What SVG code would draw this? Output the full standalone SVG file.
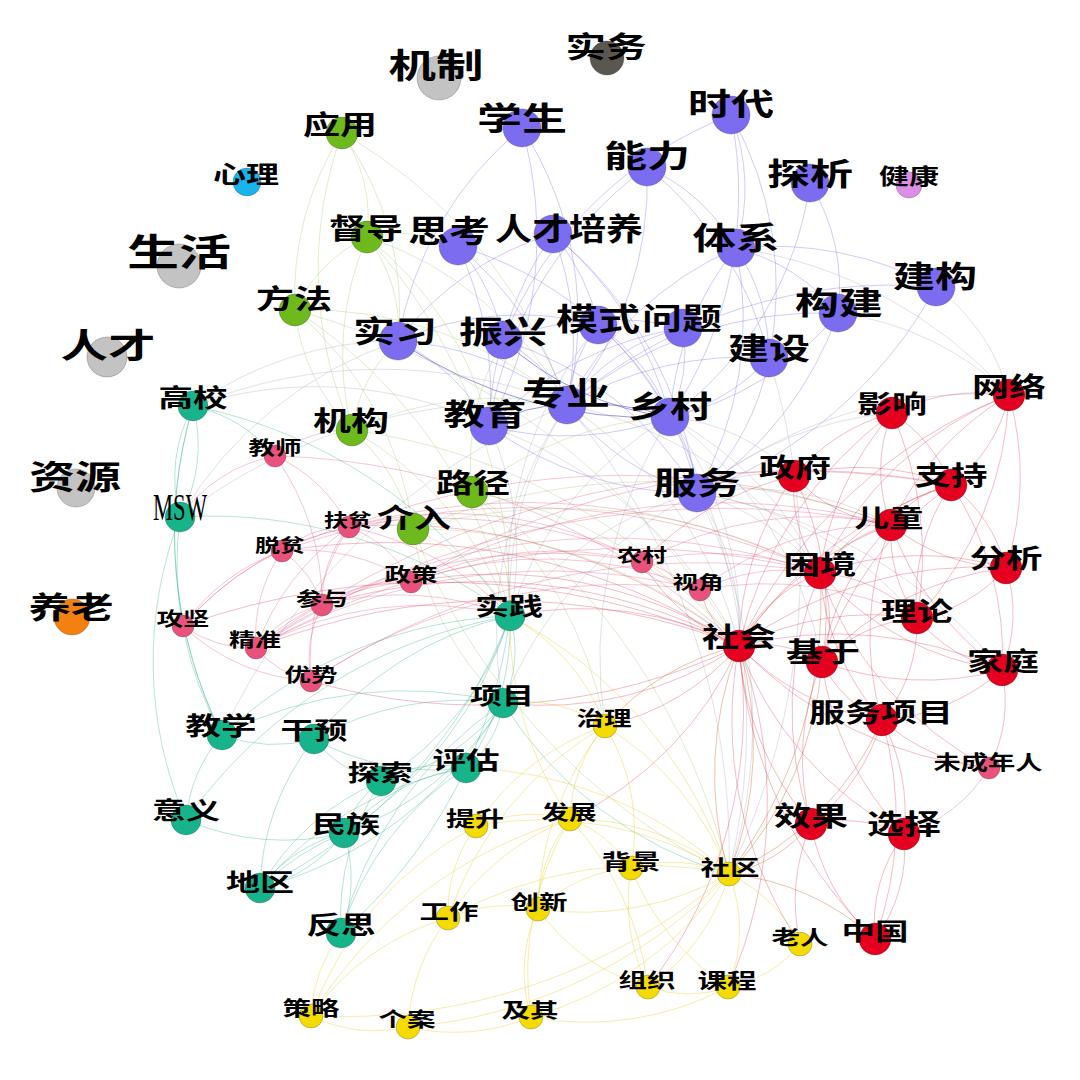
<svg xmlns="http://www.w3.org/2000/svg" width="1080" height="1080" viewBox="0 0 1080 1080">
<style>
.e path{fill:none;stroke-width:.8}
.ep{stroke:#7466e6;stroke-opacity:.42}
.ept{stroke:#5a4fd0;stroke-opacity:.75;stroke-width:1.6}
.ex{stroke:#9a9ab4;stroke-opacity:.38}
.eg{stroke:#a8c878;stroke-opacity:.45}
.er{stroke:#d8203e;stroke-opacity:.38}
.ek{stroke:#e0567e;stroke-opacity:.42}
.et{stroke:#2aae88;stroke-opacity:.42}
.ey{stroke:#e8d030;stroke-opacity:.5}
.eo{stroke:#c86a30;stroke-opacity:.5}
.n circle{stroke:#333;stroke-width:.6;stroke-opacity:.45}
.n text{font-family:"Noto Sans CJK SC","Noto Sans CJK JP",sans-serif;font-weight:700;text-anchor:middle;fill:#000}
.cp{fill:#7b6cf0}.cr{fill:#e6001f}.ck{fill:#e8527c}.ct{fill:#17b48c}.cg{fill:#6eba1c}.cy{fill:#f5dc00}.cgr{fill:#c3c3c3}
</style>
<rect width="1080" height="1080" fill="#fff"/>
<g id="connectors" class="e">
<g class="ep">
<path d="M522 128A350 350 0 0 1 567 405"/><path d="M522 128A350 350 0 0 0 398 341"/><path d="M522 128A400 400 0 0 1 489 426"/>
<path d="M731 115A400 400 0 0 1 670 417"/><path d="M731 115A400 400 0 0 0 503 340"/><path d="M731 115A350 350 0 0 1 769 358"/><path d="M731 115A200 200 0 0 1 736 248"/>
<path d="M647 167A350 350 0 0 1 567 405"/><path d="M647 167A200 200 0 0 1 736 248"/><path d="M647 167A400 400 0 0 0 489 426"/><path d="M647 167A350 350 0 0 1 769 358"/>
<path d="M810 183A200 200 0 0 1 838 313"/><path d="M810 183A350 350 0 0 1 670 417"/>
<path d="M458 246A350 350 0 0 1 567 405"/><path d="M458 246A350 350 0 0 1 670 417"/><path d="M458 246A200 200 0 0 1 503 340"/><path d="M458 246A350 350 0 0 1 489 426"/>
<path d="M553 234A300 300 0 0 1 567 405"/><path d="M553 234A350 350 0 0 1 670 417"/><path d="M553 234A350 350 0 0 0 489 426"/><path d="M553 234A200 200 0 0 1 598 325"/><path d="M553 234A300 300 0 0 0 398 341"/><path d="M553 234A400 400 0 0 1 697 493"/>
<path d="M736 248A200 200 0 0 1 769 358"/><path d="M736 248A200 200 0 0 1 838 313"/><path d="M736 248A350 350 0 0 1 936 287"/><path d="M736 248A350 350 0 0 0 567 405"/><path d="M736 248A350 350 0 0 1 697 493"/><path d="M736 248A300 300 0 0 0 670 417"/>
<path d="M936 287A500 500 0 0 0 567 405"/><path d="M936 287A450 450 0 0 1 697 493"/>
<path d="M838 313A400 400 0 0 0 567 405"/><path d="M838 313A300 300 0 0 1 670 417"/><path d="M838 313A350 350 0 0 1 697 493"/>
<path d="M398 341A300 300 0 0 1 567 405"/><path d="M398 341A200 200 0 0 1 489 426"/><path d="M398 341A300 300 0 0 1 598 325"/>
<path d="M503 340A150 150 0 0 1 567 405"/><path d="M503 340A350 350 0 0 1 697 493"/><path d="M503 340A300 300 0 0 1 683 328"/>
<path d="M598 325A150 150 0 0 0 567 405"/><path d="M598 325A200 200 0 0 1 670 417"/><path d="M598 325A300 300 0 0 1 697 493"/>
<path d="M683 328A150 150 0 0 1 670 417"/><path d="M683 328A200 200 0 0 0 567 405"/><path d="M683 328A350 350 0 0 0 489 426"/>
<path d="M769 358A200 200 0 0 1 670 417"/><path d="M769 358A350 350 0 0 0 567 405"/><path d="M769 358A250 250 0 0 1 697 493"/>
<path d="M489 426A300 300 0 0 0 670 417"/><path d="M567 405A250 250 0 0 0 697 493"/><path d="M670 417A150 150 0 0 1 697 493"/><path d="M489 426A350 350 0 0 0 697 493"/>
</g>
<g class="ept">
<path d="M398 341A450 450 0 0 0 670 417"/><path d="M503 340A300 300 0 0 0 670 417"/><path d="M489 426A150 150 0 0 1 567 405"/><path d="M567 405A250 250 0 0 1 670 417"/>
</g>
<g class="ex">
<path d="M697 493A250 250 0 0 1 739 646"/><path d="M697 493A250 250 0 0 1 820 573"/><path d="M697 493A300 300 0 0 1 891 525"/><path d="M670 417A350 350 0 0 1 739 646"/>
<path d="M670 417A650 650 0 0 1 729 874"/><path d="M670 417A450 450 0 0 0 605 726"/><path d="M567 405A350 350 0 0 0 510 616"/><path d="M567 405A400 400 0 0 1 739 646"/>
<path d="M567 405A700 700 0 0 1 729 874"/><path d="M489 426A300 300 0 0 1 510 616"/><path d="M697 493A500 500 0 0 1 729 874"/><path d="M769 358A700 700 0 0 1 729 874"/>
<path d="M670 417A200 200 0 0 1 794 476"/><path d="M697 493A350 350 0 0 1 892 413"/><path d="M838 313A300 300 0 0 1 1009 395"/><path d="M936 287A200 200 0 0 1 1009 395"/>
<path d="M697 493A450 450 0 0 1 1009 395"/><path d="M697 493A500 500 0 0 1 1002 670"/><path d="M697 493A400 400 0 0 0 503 703"/><path d="M598 325A400 400 0 0 0 510 616"/>
<path d="M398 341A400 400 0 0 0 180 517"/><path d="M567 405A500 500 0 0 0 193 406"/><path d="M567 405A550 550 0 0 0 180 517"/><path d="M489 426A400 400 0 0 0 193 406"/>
<path d="M398 341A350 350 0 0 0 193 406"/><path d="M567 405A650 650 0 0 0 222 735"/><path d="M670 417A350 350 0 0 1 820 573"/><path d="M567 405A400 400 0 0 1 820 573"/>
<path d="M697 493A350 350 0 0 0 510 616"/><path d="M670 417A350 350 0 0 0 510 616"/><path d="M697 493A150 150 0 0 1 794 476"/><path d="M736 248A450 450 0 0 1 1009 395"/>
<path d="M567 405A400 400 0 0 0 503 703"/><path d="M489 426A450 450 0 0 1 739 646"/><path d="M697 493A350 350 0 0 1 917 618"/><path d="M670 417A400 400 0 0 1 822 662"/>
</g>
<g class="eg">
<path d="M342 133A150 150 0 0 1 367 237"/><path d="M342 133A300 300 0 0 0 295 310"/><path d="M342 133A500 500 0 0 1 567 405"/><path d="M342 133A300 300 0 0 1 398 341"/>
<path d="M367 237A150 150 0 0 1 398 341"/><path d="M367 237A150 150 0 0 0 295 310"/><path d="M367 237A350 350 0 0 1 567 405"/><path d="M367 237A350 350 0 0 1 489 426"/>
<path d="M367 237A550 550 0 0 1 510 616"/><path d="M367 237A150 150 0 0 1 458 246"/><path d="M295 310A500 500 0 0 1 510 616"/><path d="M295 310A350 350 0 0 1 413 529"/>
<path d="M295 310A400 400 0 0 1 567 405"/><path d="M295 310A750 750 0 0 1 739 646"/><path d="M352 430A200 200 0 0 1 413 529"/><path d="M352 430A350 350 0 0 1 510 616"/>
<path d="M352 430A350 350 0 0 1 567 405"/><path d="M352 430A150 150 0 0 1 398 341"/><path d="M352 430A600 600 0 0 1 739 646"/><path d="M472 492A200 200 0 0 1 510 616"/>
<path d="M472 492A250 250 0 0 1 503 340"/><path d="M472 492A350 350 0 0 1 670 417"/><path d="M472 492A450 450 0 0 1 739 646"/><path d="M472 492A400 400 0 0 1 605 726"/>
<path d="M472 492A650 650 0 0 1 729 874"/><path d="M413 529A200 200 0 0 1 510 616"/><path d="M413 529A500 500 0 0 1 739 646"/><path d="M413 529A550 550 0 0 1 820 573"/>
<path d="M413 529A650 650 0 0 0 729 874"/><path d="M413 529A300 300 0 0 0 503 703"/><path d="M413 529A650 650 0 0 1 891 525"/><path d="M342 133A400 400 0 0 0 352 430"/>
<path d="M367 237A300 300 0 0 0 352 430"/><path d="M295 310A200 200 0 0 0 352 430"/>
</g>
<g class="er">
<path d="M739 646A150 150 0 0 1 820 573"/><path d="M739 646A120 120 0 0 1 822 662"/><path d="M739 646A300 300 0 0 1 891 525"/><path d="M739 646A400 400 0 0 1 951 485"/>
<path d="M739 646A300 300 0 0 1 794 476"/><path d="M739 646A300 300 0 0 1 917 618"/><path d="M739 646A400 400 0 0 1 1002 670"/><path d="M739 646A250 250 0 0 0 882 720"/>
<path d="M739 646A400 400 0 0 1 892 413"/><path d="M739 646A500 500 0 0 1 1009 395"/><path d="M739 646A400 400 0 0 1 1006 568"/><path d="M739 646A100 100 0 0 1 700 590"/>
<path d="M739 646A200 200 0 0 1 642 562"/><path d="M739 646A300 300 0 0 0 811 824"/><path d="M739 646A450 450 0 0 0 875 939"/><path d="M739 646A650 650 0 0 0 256 648"/>
<path d="M739 646A550 550 0 0 0 349 527"/><path d="M739 646A450 450 0 0 0 411 582"/><path d="M739 646A550 550 0 0 0 322 605"/><path d="M739 646A650 650 0 0 0 282 551"/>
<path d="M739 646A600 600 0 0 1 311 681"/><path d="M739 646A750 750 0 0 0 183 626"/><path d="M739 646A350 350 0 0 0 510 616"/><path d="M739 646A350 350 0 0 1 503 703"/>
<path d="M739 646A350 350 0 0 1 570 819"/><path d="M739 646A250 250 0 0 1 605 726"/><path d="M739 646A350 350 0 0 0 904 834"/><path d="M739 646A400 400 0 0 0 800 944"/>
<path d="M739 646A400 400 0 0 0 989 768"/><path d="M739 646A450 450 0 0 1 728 987"/><path d="M739 646A450 450 0 0 1 648 987"/>
<path d="M820 573A120 120 0 0 1 891 525"/><path d="M820 573A250 250 0 0 1 951 485"/><path d="M820 573A300 300 0 0 0 1002 670"/><path d="M820 573A150 150 0 0 1 917 618"/>
<path d="M820 573A120 120 0 0 1 822 662"/><path d="M820 573A250 250 0 0 0 882 720"/><path d="M820 573A300 300 0 0 1 1006 568"/><path d="M820 573A150 150 0 0 1 794 476"/>
<path d="M820 573A300 300 0 0 1 892 413"/><path d="M820 573A350 350 0 0 0 989 768"/><path d="M820 573A350 350 0 0 1 1009 395"/><path d="M820 573A350 350 0 0 0 811 824"/>
<path d="M891 525A100 100 0 0 1 951 485"/><path d="M891 525A300 300 0 0 0 1002 670"/><path d="M891 525A300 300 0 0 0 882 720"/><path d="M891 525A250 250 0 0 0 822 662"/>
<path d="M891 525A150 150 0 0 0 917 618"/><path d="M891 525A300 300 0 0 1 1009 395"/><path d="M891 525A150 150 0 0 1 892 413"/><path d="M891 525A200 200 0 0 0 1006 568"/>
<path d="M891 525A150 150 0 0 1 794 476"/><path d="M822 662A120 120 0 0 0 882 720"/><path d="M822 662A250 250 0 0 0 811 824"/><path d="M822 662A150 150 0 0 1 917 618"/>
<path d="M822 662A300 300 0 0 0 1002 670"/><path d="M822 662A300 300 0 0 1 1006 568"/><path d="M822 662A300 300 0 0 0 904 834"/><path d="M822 662A350 350 0 0 1 951 485"/>
<path d="M882 720A200 200 0 0 1 811 824"/><path d="M882 720A200 200 0 0 1 904 834"/><path d="M882 720A200 200 0 0 0 989 768"/><path d="M882 720A200 200 0 0 0 1002 670"/>
<path d="M882 720A150 150 0 0 0 917 618"/><path d="M882 720A350 350 0 0 1 875 939"/><path d="M904 834A150 150 0 0 1 875 939"/><path d="M875 939A150 150 0 0 1 904 834"/>
<path d="M904 834A150 150 0 0 0 811 824"/><path d="M811 824A200 200 0 0 0 875 939"/><path d="M811 824A200 200 0 0 0 800 944"/><path d="M1009 395A150 150 0 0 1 951 485"/>
<path d="M1009 395A200 200 0 0 0 892 413"/><path d="M1009 395A350 350 0 0 1 917 618"/><path d="M892 413A150 150 0 0 1 951 485"/><path d="M892 413A200 200 0 0 0 794 476"/>
<path d="M892 413A350 350 0 0 1 917 618"/><path d="M1006 568A150 150 0 0 1 917 618"/><path d="M1006 568A150 150 0 0 1 1002 670"/><path d="M1006 568A150 150 0 0 0 951 485"/>
<path d="M794 476A250 250 0 0 1 951 485"/><path d="M794 476A300 300 0 0 0 642 562"/><path d="M794 476A300 300 0 0 1 822 662"/><path d="M917 618A150 150 0 0 0 1002 670"/>
<path d="M917 618A200 200 0 0 1 951 485"/><path d="M989 768A150 150 0 0 0 1002 670"/><path d="M1002 670A300 300 0 0 0 951 485"/><path d="M1009 395A300 300 0 0 1 1006 568"/>
</g>
<g class="ek">
<path d="M256 648A250 250 0 0 1 349 527"/><path d="M256 648A150 150 0 0 1 282 551"/><path d="M256 648A120 120 0 0 1 183 626"/><path d="M256 648A100 100 0 0 0 311 681"/>
<path d="M256 648A120 120 0 0 1 322 605"/><path d="M256 648A250 250 0 0 1 411 582"/><path d="M256 648A350 350 0 0 1 510 616"/><path d="M256 648A500 500 0 0 1 642 562"/>
<path d="M256 648A750 750 0 0 1 820 573"/><path d="M256 648A850 850 0 0 1 891 525"/><path d="M256 648A900 900 0 0 1 951 485"/><path d="M256 648A600 600 0 0 1 700 590"/>
<path d="M349 527A100 100 0 0 0 282 551"/><path d="M349 527A120 120 0 0 1 411 582"/><path d="M349 527A120 120 0 0 0 322 605"/><path d="M349 527A500 500 0 0 1 700 590"/>
<path d="M349 527A400 400 0 0 1 642 562"/><path d="M349 527A250 250 0 0 0 311 681"/><path d="M349 527A300 300 0 0 0 183 626"/><path d="M349 527A650 650 0 0 1 820 573"/>
<path d="M349 527A300 300 0 0 1 510 616"/><path d="M349 527A750 750 0 0 1 891 525"/><path d="M282 551A200 200 0 0 0 183 626"/><path d="M282 551A200 200 0 0 1 411 582"/>
<path d="M282 551A100 100 0 0 1 322 605"/><path d="M282 551A700 700 0 0 1 820 573"/><path d="M275 456A150 150 0 0 1 349 527"/><path d="M275 456A120 120 0 0 1 352 430"/>
<path d="M275 456A250 250 0 0 1 322 605"/><path d="M275 456A150 150 0 0 0 180 517"/><path d="M275 456A700 700 0 0 1 739 646"/><path d="M411 582A350 350 0 0 1 642 562"/>
<path d="M411 582A400 400 0 0 1 700 590"/><path d="M411 582A150 150 0 0 0 322 605"/><path d="M411 582A750 750 0 0 1 951 485"/><path d="M411 582A650 650 0 0 1 891 525"/>
<path d="M322 605A120 120 0 0 0 311 681"/><path d="M322 605A300 300 0 0 1 510 616"/><path d="M322 605A650 650 0 0 1 820 573"/><path d="M183 626A200 200 0 0 0 311 681"/>
<path d="M311 681A550 550 0 0 1 700 590"/><path d="M311 681A700 700 0 0 1 820 573"/><path d="M642 562A100 100 0 0 0 700 590"/><path d="M642 562A300 300 0 0 1 820 573"/>
<path d="M642 562A350 350 0 0 1 891 525"/><path d="M700 590A200 200 0 0 1 820 573"/><path d="M700 590A300 300 0 0 1 891 525"/><path d="M700 590A350 350 0 0 1 917 618"/>
<path d="M989 768A150 150 0 0 1 904 834"/><path d="M183 626A300 300 0 0 1 349 527"/>
</g>
<g class="et">
<path d="M510 616A120 120 0 0 1 503 703"/><path d="M510 616A250 250 0 0 1 466 768"/><path d="M510 616A300 300 0 0 1 381 781"/><path d="M510 616A350 350 0 0 0 314 739"/>
<path d="M510 616A450 450 0 0 0 222 735"/><path d="M510 616A400 400 0 0 1 344 833"/><path d="M510 616A500 500 0 0 1 260 888"/><path d="M510 616A500 500 0 0 0 180 517"/>
<path d="M510 616A500 500 0 0 0 193 406"/><path d="M510 616A500 500 0 0 1 341 933"/><path d="M510 616A500 500 0 0 0 186 820"/><path d="M503 703A100 100 0 0 1 466 768"/>
<path d="M503 703A300 300 0 0 0 314 739"/><path d="M503 703A200 200 0 0 1 381 781"/><path d="M503 703A400 400 0 0 0 729 874"/><path d="M503 703A300 300 0 0 1 344 833"/>
<path d="M503 703A400 400 0 0 0 222 735"/><path d="M503 703A400 400 0 0 1 260 888"/><path d="M222 735A150 150 0 0 0 314 739"/><path d="M222 735A150 150 0 0 0 186 820"/>
<path d="M222 735A450 450 0 0 1 193 406"/><path d="M222 735A350 350 0 0 1 180 517"/><path d="M314 739A120 120 0 0 0 381 781"/><path d="M314 739A250 250 0 0 0 466 768"/>
<path d="M314 739A250 250 0 0 0 260 888"/><path d="M344 833A150 150 0 0 1 260 888"/><path d="M260 888A150 150 0 0 1 344 833"/><path d="M344 833A250 250 0 0 0 260 888"/>
<path d="M344 833A100 100 0 0 1 381 781"/><path d="M344 833A150 150 0 0 1 341 933"/><path d="M344 833A200 200 0 0 1 466 768"/><path d="M260 888A250 250 0 0 1 381 781"/>
<path d="M260 888A350 350 0 0 1 466 768"/><path d="M341 933A250 250 0 0 1 381 781"/><path d="M341 933A400 400 0 0 1 503 703"/><path d="M341 933A300 300 0 0 1 466 768"/>
<path d="M193 406A150 150 0 0 0 180 517"/><path d="M180 517A150 150 0 0 0 193 406"/><path d="M180 517A400 400 0 0 0 186 820"/><path d="M186 820A250 250 0 0 0 344 833"/>
<path d="M381 781A120 120 0 0 1 466 768"/><path d="M193 406A150 150 0 0 1 275 456"/><path d="M193 406A450 450 0 0 0 222 735"/>
</g>
<g class="ey">
<path d="M729 874A300 300 0 0 0 605 726"/><path d="M729 874A250 250 0 0 0 570 819"/><path d="M729 874A150 150 0 0 0 631 868"/><path d="M729 874A200 200 0 0 1 648 987"/>
<path d="M729 874A150 150 0 0 1 728 987"/><path d="M729 874A150 150 0 0 1 800 944"/><path d="M729 874A300 300 0 0 1 538 909"/><path d="M729 874A400 400 0 0 0 448 918"/>
<path d="M729 874A350 350 0 0 0 476 826"/><path d="M729 874A350 350 0 0 1 531 1017"/><path d="M729 874A500 500 0 0 1 408 1027"/><path d="M729 874A600 600 0 0 1 311 1016"/>
<path d="M729 874A450 450 0 0 0 510 616"/><path d="M729 874A400 400 0 0 0 466 768"/><path d="M605 726A150 150 0 0 0 570 819"/><path d="M605 726A300 300 0 0 0 538 909"/>
<path d="M605 726A200 200 0 0 0 510 616"/><path d="M605 726A250 250 0 0 0 476 826"/><path d="M605 726A350 350 0 0 0 448 918"/><path d="M605 726A200 200 0 0 1 631 868"/>
<path d="M605 726A150 150 0 0 0 503 703"/><path d="M570 819A250 250 0 0 0 448 918"/><path d="M570 819A120 120 0 0 1 631 868"/><path d="M570 819A150 150 0 0 0 538 909"/>
<path d="M570 819A300 300 0 0 1 648 987"/><path d="M570 819A300 300 0 0 0 531 1017"/><path d="M570 819A350 350 0 0 1 510 616"/><path d="M570 819A150 150 0 0 0 476 826"/>
<path d="M570 819A450 450 0 0 0 311 1016"/><path d="M448 918A250 250 0 0 0 311 1016"/><path d="M448 918A200 200 0 0 0 408 1027"/><path d="M448 918A150 150 0 0 1 538 909"/>
<path d="M408 1027A150 150 0 0 1 311 1016"/><path d="M408 1027A200 200 0 0 0 531 1017"/><path d="M648 987A120 120 0 0 0 728 987"/><path d="M648 987A200 200 0 0 1 631 868"/>
<path d="M341 933A150 150 0 0 0 311 1016"/><path d="M476 826A350 350 0 0 0 311 1016"/><path d="M476 826A150 150 0 0 0 448 918"/><path d="M631 868A250 250 0 0 0 728 987"/>
<path d="M728 987A120 120 0 0 0 800 944"/><path d="M538 909A150 150 0 0 0 531 1017"/><path d="M538 909A200 200 0 0 0 648 987"/><path d="M538 909A150 150 0 0 1 631 868"/>
<path d="M531 1017A300 300 0 0 0 728 987"/>
</g>
<g class="eo">
<path d="M739 646A350 350 0 0 1 729 874"/><path d="M729 874A350 350 0 0 1 739 646"/><path d="M729 874A300 300 0 0 0 882 720"/><path d="M729 874A150 150 0 0 0 811 824"/>
<path d="M729 874A450 450 0 0 0 820 573"/><path d="M729 874A350 350 0 0 0 822 662"/><path d="M729 874A250 250 0 0 1 875 939"/><path d="M605 726A250 250 0 0 1 739 646"/>
</g>
</g>
<g id="nodes">
<g id="n_jizhi" class="n"><circle class="cgr" cx="439" cy="78" r="22"/><text x="436" y="78" font-size="34" textLength="95" lengthAdjust="spacingAndGlyphs">机制</text></g>
<g id="n_shiwu" class="n"><circle fill="#5a5650" cx="607" cy="58" r="17"/><text x="606" y="58" font-size="29" textLength="81" lengthAdjust="spacingAndGlyphs">实务</text></g>
<g id="n_shenghuo" class="n"><circle class="cgr" cx="179" cy="266" r="22"/><text x="179" y="266" font-size="37" textLength="104" lengthAdjust="spacingAndGlyphs">生活</text></g>
<g id="n_rencai" class="n"><circle class="cgr" cx="107" cy="357" r="20"/><text x="108" y="358" font-size="34" textLength="95" lengthAdjust="spacingAndGlyphs">人才</text></g>
<g id="n_ziyuan" class="n"><circle class="cgr" cx="76" cy="488" r="19"/><text x="75" y="489" font-size="33" textLength="92" lengthAdjust="spacingAndGlyphs">资源</text></g>
<g id="n_yanglao" class="n"><circle fill="#f28110" cx="72" cy="617" r="18"/><text x="71" y="618" font-size="30" textLength="85" lengthAdjust="spacingAndGlyphs">养老</text></g>
<g id="n_xinli" class="n"><circle fill="#1ab4ec" cx="247" cy="182" r="14"/><text x="246" y="183" font-size="24" textLength="66" lengthAdjust="spacingAndGlyphs">心理</text></g>
<g id="n_jiankang" class="n"><circle fill="#dc8ee8" cx="909" cy="185" r="13"/><text x="909" y="184" font-size="22" textLength="60" lengthAdjust="spacingAndGlyphs">健康</text></g>

<g id="n_yingyong" class="n"><circle class="cg" cx="342" cy="133" r="16"/><text x="340" y="135" font-size="27" textLength="74" lengthAdjust="spacingAndGlyphs">应用</text></g>
<g id="n_dudao" class="n"><circle class="cg" cx="367" cy="237" r="16"/><text x="366" y="239" font-size="28" textLength="74" lengthAdjust="spacingAndGlyphs">督导</text></g>
<g id="n_fangfa" class="n"><circle class="cg" cx="295" cy="310" r="16"/><text x="294" y="309" font-size="27" textLength="76" lengthAdjust="spacingAndGlyphs">方法</text></g>
<g id="n_jigou" class="n"><circle class="cg" cx="352" cy="430" r="16"/><text x="351" y="431" font-size="27" textLength="76" lengthAdjust="spacingAndGlyphs">机构</text></g>
<g id="n_lujing" class="n"><circle class="cg" cx="472" cy="492" r="16"/><text x="473" y="493" font-size="27" textLength="74" lengthAdjust="spacingAndGlyphs">路径</text></g>
<g id="n_jieru" class="n"><circle class="cg" cx="413" cy="529" r="16"/><text x="414" y="528" font-size="27" textLength="74" lengthAdjust="spacingAndGlyphs">介入</text></g>

<g id="n_xuesheng" class="n"><circle class="cp" cx="522" cy="128" r="19"/><text x="522" y="130" font-size="32" textLength="90" lengthAdjust="spacingAndGlyphs">学生</text></g>
<g id="n_shidai" class="n"><circle class="cp" cx="731" cy="115" r="19"/><text x="731" y="115" font-size="31" textLength="86" lengthAdjust="spacingAndGlyphs">时代</text></g>
<g id="n_nengli" class="n"><circle class="cp" cx="647" cy="167" r="19"/><text x="647" y="167" font-size="31" textLength="86" lengthAdjust="spacingAndGlyphs">能力</text></g>
<g id="n_tanxi" class="n"><circle class="cp" cx="810" cy="183" r="19"/><text x="810" y="185" font-size="31" textLength="86" lengthAdjust="spacingAndGlyphs">探析</text></g>
<g id="n_sikao" class="n"><circle class="cp" cx="458" cy="246" r="19"/><text x="449" y="242" font-size="31" textLength="82" lengthAdjust="spacingAndGlyphs">思考</text></g>
<g id="n_rencaipeiyang" class="n"><circle class="cp" cx="553" cy="234" r="19"/><text x="569" y="240" font-size="31" textLength="148" lengthAdjust="spacingAndGlyphs">人才培养</text></g>
<g id="n_tixi" class="n"><circle class="cp" cx="736" cy="248" r="19"/><text x="736" y="249" font-size="31" textLength="87" lengthAdjust="spacingAndGlyphs">体系</text></g>
<g id="n_jiangou" class="n"><circle class="cp" cx="936" cy="287" r="19"/><text x="935" y="287" font-size="30" textLength="84" lengthAdjust="spacingAndGlyphs">建构</text></g>
<g id="n_goujian" class="n"><circle class="cp" cx="838" cy="313" r="19"/><text x="839" y="314" font-size="31" textLength="88" lengthAdjust="spacingAndGlyphs">构建</text></g>
<g id="n_shixi" class="n"><circle class="cp" cx="398" cy="341" r="19"/><text x="395" y="342" font-size="30" textLength="84" lengthAdjust="spacingAndGlyphs">实习</text></g>
<g id="n_zhenxing" class="n"><circle class="cp" cx="503" cy="340" r="19"/><text x="503" y="343" font-size="31" textLength="88" lengthAdjust="spacingAndGlyphs">振兴</text></g>
<g id="n_moshi" class="n"><circle class="cp" cx="598" cy="325" r="19"/><text x="598" y="330" font-size="31" textLength="84" lengthAdjust="spacingAndGlyphs">模式</text></g>
<g id="n_wenti" class="n"><circle class="cp" cx="683" cy="328" r="19"/><text x="682" y="329" font-size="30" textLength="80" lengthAdjust="spacingAndGlyphs">问题</text></g>
<g id="n_jianshe" class="n"><circle class="cp" cx="769" cy="358" r="19"/><text x="769" y="359" font-size="30" textLength="82" lengthAdjust="spacingAndGlyphs">建设</text></g>
<g id="n_jiaoyu" class="n"><circle class="cp" cx="489" cy="426" r="19"/><text x="485" y="425" font-size="30" textLength="83" lengthAdjust="spacingAndGlyphs">教育</text></g>
<g id="n_zhuanye" class="n"><circle class="cp" cx="567" cy="405" r="19"/><text x="566" y="405" font-size="32" textLength="88" lengthAdjust="spacingAndGlyphs">专业</text></g>
<g id="n_xiangcun" class="n"><circle class="cp" cx="670" cy="417" r="19"/><text x="670" y="417" font-size="30" textLength="84" lengthAdjust="spacingAndGlyphs">乡村</text></g>
<g id="n_fuwu" class="n"><circle class="cp" cx="697" cy="493" r="19"/><text x="697" y="494" font-size="31" textLength="87" lengthAdjust="spacingAndGlyphs">服务</text></g>

<g id="n_wangluo" class="n"><circle class="cr" cx="1009" cy="395" r="16"/><text x="1009" y="397" font-size="27" textLength="74" lengthAdjust="spacingAndGlyphs">网络</text></g>
<g id="n_yingxiang" class="n"><circle class="cr" cx="892" cy="413" r="16"/><text x="892" y="413" font-size="25" textLength="70" lengthAdjust="spacingAndGlyphs">影响</text></g>
<g id="n_zhengfu" class="n"><circle class="cr" cx="794" cy="476" r="16"/><text x="795" y="477" font-size="26" textLength="72" lengthAdjust="spacingAndGlyphs">政府</text></g>
<g id="n_zhichi" class="n"><circle class="cr" cx="951" cy="485" r="16"/><text x="951" y="485" font-size="26" textLength="73" lengthAdjust="spacingAndGlyphs">支持</text></g>
<g id="n_ertong" class="n"><circle class="cr" cx="891" cy="525" r="16"/><text x="889" y="527" font-size="25" textLength="69" lengthAdjust="spacingAndGlyphs">儿童</text></g>
<g id="n_kunjing" class="n"><circle class="cr" cx="820" cy="573" r="16"/><text x="820" y="574" font-size="26" textLength="73" lengthAdjust="spacingAndGlyphs">困境</text></g>
<g id="n_fenxi" class="n"><circle class="cr" cx="1006" cy="568" r="16"/><text x="1006" y="568" font-size="26" textLength="73" lengthAdjust="spacingAndGlyphs">分析</text></g>
<g id="n_lilun" class="n"><circle class="cr" cx="917" cy="618" r="16"/><text x="917" y="621" font-size="26" textLength="72" lengthAdjust="spacingAndGlyphs">理论</text></g>
<g id="n_shehui" class="n"><circle class="cr" cx="739" cy="646" r="16"/><text x="739" y="647" font-size="27" textLength="74" lengthAdjust="spacingAndGlyphs">社会</text></g>
<g id="n_jiyu" class="n"><circle class="cr" cx="822" cy="662" r="16"/><text x="823" y="662" font-size="27" textLength="74" lengthAdjust="spacingAndGlyphs">基于</text></g>
<g id="n_jiating" class="n"><circle class="cr" cx="1002" cy="670" r="16"/><text x="1003" y="671" font-size="26" textLength="72" lengthAdjust="spacingAndGlyphs">家庭</text></g>
<g id="n_fuwuxiangmu" class="n"><circle class="cr" cx="882" cy="720" r="16"/><text x="881" y="722" font-size="26" textLength="144" lengthAdjust="spacingAndGlyphs">服务项目</text></g>
<g id="n_xiaoguo" class="n"><circle class="cr" cx="811" cy="824" r="16"/><text x="811" y="826" font-size="27" textLength="74" lengthAdjust="spacingAndGlyphs">效果</text></g>
<g id="n_xuanze" class="n"><circle class="cr" cx="904" cy="834" r="16"/><text x="904" y="834" font-size="27" textLength="74" lengthAdjust="spacingAndGlyphs">选择</text></g>
<g id="n_zhongguo" class="n"><circle class="cr" cx="875" cy="939" r="16"/><text x="875" y="940" font-size="24" textLength="67" lengthAdjust="spacingAndGlyphs">中国</text></g>

<g id="n_jiaoshi" class="n"><circle class="ck" cx="275" cy="456" r="11"/><text x="275" y="455" font-size="19" textLength="53" lengthAdjust="spacingAndGlyphs">教师</text></g>
<g id="n_fupin" class="n"><circle class="ck" cx="349" cy="527" r="11"/><text x="348" y="527" font-size="18" textLength="48" lengthAdjust="spacingAndGlyphs">扶贫</text></g>
<g id="n_tuopin" class="n"><circle class="ck" cx="282" cy="551" r="11"/><text x="280" y="552" font-size="18" textLength="50" lengthAdjust="spacingAndGlyphs">脱贫</text></g>
<g id="n_zhengce" class="n"><circle class="ck" cx="411" cy="582" r="11"/><text x="411" y="582" font-size="19" textLength="53" lengthAdjust="spacingAndGlyphs">政策</text></g>
<g id="n_canyu" class="n"><circle class="ck" cx="322" cy="605" r="11"/><text x="322" y="606" font-size="19" textLength="52" lengthAdjust="spacingAndGlyphs">参与</text></g>
<g id="n_gongjian" class="n"><circle class="ck" cx="183" cy="626" r="11"/><text x="183" y="626" font-size="19" textLength="53" lengthAdjust="spacingAndGlyphs">攻坚</text></g>
<g id="n_jingzhun" class="n"><circle class="ck" cx="256" cy="648" r="11"/><text x="255" y="647" font-size="19" textLength="52" lengthAdjust="spacingAndGlyphs">精准</text></g>
<g id="n_youshi" class="n"><circle class="ck" cx="311" cy="681" r="11"/><text x="311" y="682" font-size="19" textLength="53" lengthAdjust="spacingAndGlyphs">优势</text></g>
<g id="n_nongcun" class="n"><circle class="ck" cx="642" cy="562" r="11"/><text x="642" y="562" font-size="18" textLength="50" lengthAdjust="spacingAndGlyphs">农村</text></g>
<g id="n_shijiao" class="n"><circle class="ck" cx="700" cy="590" r="11"/><text x="698" y="589" font-size="18" textLength="51" lengthAdjust="spacingAndGlyphs">视角</text></g>
<g id="n_weichengnianren" class="n"><circle class="ck" cx="989" cy="768" r="11"/><text x="988" y="770" font-size="20" textLength="109" lengthAdjust="spacingAndGlyphs">未成年人</text></g>

<g id="n_gaoxiao" class="n"><circle class="ct" cx="193" cy="406" r="15"/><text x="193" y="407" font-size="25" textLength="69" lengthAdjust="spacingAndGlyphs">高校</text></g>
<g id="n_msw" class="n"><circle class="ct" cx="180" cy="517" r="15"/><text x="180" y="520" font-size="38" textLength="54" lengthAdjust="spacingAndGlyphs" style="font-family:'Liberation Serif',serif;font-weight:400">MSW</text></g>
<g id="n_shijian" class="n"><circle class="ct" cx="510" cy="616" r="15"/><text x="509" y="615" font-size="24" textLength="68" lengthAdjust="spacingAndGlyphs">实践</text></g>
<g id="n_xiangmu" class="n"><circle class="ct" cx="503" cy="703" r="15"/><text x="502" y="704" font-size="23" textLength="64" lengthAdjust="spacingAndGlyphs">项目</text></g>
<g id="n_jiaoxue" class="n"><circle class="ct" cx="222" cy="735" r="15"/><text x="221" y="735" font-size="25" textLength="71" lengthAdjust="spacingAndGlyphs">教学</text></g>
<g id="n_ganyu" class="n"><circle class="ct" cx="314" cy="739" r="15"/><text x="314" y="739" font-size="24" textLength="67" lengthAdjust="spacingAndGlyphs">干预</text></g>
<g id="n_tansuo" class="n"><circle class="ct" cx="381" cy="781" r="15"/><text x="380" y="781" font-size="23" textLength="65" lengthAdjust="spacingAndGlyphs">探索</text></g>
<g id="n_pinggu" class="n"><circle class="ct" cx="466" cy="768" r="15"/><text x="466" y="769" font-size="24" textLength="67" lengthAdjust="spacingAndGlyphs">评估</text></g>
<g id="n_yiyi" class="n"><circle class="ct" cx="186" cy="820" r="15"/><text x="186" y="819" font-size="24" textLength="68" lengthAdjust="spacingAndGlyphs">意义</text></g>
<g id="n_minzu" class="n"><circle class="ct" cx="344" cy="833" r="15"/><text x="346" y="833" font-size="24" textLength="68" lengthAdjust="spacingAndGlyphs">民族</text></g>
<g id="n_diqu" class="n"><circle class="ct" cx="260" cy="888" r="15"/><text x="260" y="891" font-size="24" textLength="68" lengthAdjust="spacingAndGlyphs">地区</text></g>
<g id="n_fansi" class="n"><circle class="ct" cx="341" cy="933" r="15"/><text x="341" y="934" font-size="25" textLength="69" lengthAdjust="spacingAndGlyphs">反思</text></g>

<g id="n_zhili" class="n"><circle class="cy" cx="605" cy="726" r="12"/><text x="604" y="726" font-size="20" textLength="55" lengthAdjust="spacingAndGlyphs">治理</text></g>
<g id="n_tisheng" class="n"><circle class="cy" cx="476" cy="826" r="12"/><text x="475" y="826" font-size="21" textLength="58" lengthAdjust="spacingAndGlyphs">提升</text></g>
<g id="n_fazhan" class="n"><circle class="cy" cx="570" cy="819" r="12"/><text x="569" y="820" font-size="20" textLength="55" lengthAdjust="spacingAndGlyphs">发展</text></g>
<g id="n_beijing" class="n"><circle class="cy" cx="631" cy="868" r="12"/><text x="631" y="869" font-size="21" textLength="59" lengthAdjust="spacingAndGlyphs">背景</text></g>
<g id="n_shequ" class="n"><circle class="cy" cx="729" cy="874" r="12"/><text x="730" y="875" font-size="21" textLength="59" lengthAdjust="spacingAndGlyphs">社区</text></g>
<g id="n_gongzuo" class="n"><circle class="cy" cx="448" cy="918" r="12"/><text x="449" y="919" font-size="21" textLength="59" lengthAdjust="spacingAndGlyphs">工作</text></g>
<g id="n_chuangxin" class="n"><circle class="cy" cx="538" cy="909" r="12"/><text x="539" y="910" font-size="20" textLength="57" lengthAdjust="spacingAndGlyphs">创新</text></g>
<g id="n_laoren" class="n"><circle class="cy" cx="800" cy="944" r="12"/><text x="800" y="945" font-size="20" textLength="57" lengthAdjust="spacingAndGlyphs">老人</text></g>
<g id="n_zuzhi" class="n"><circle class="cy" cx="648" cy="987" r="12"/><text x="647" y="988" font-size="20" textLength="57" lengthAdjust="spacingAndGlyphs">组织</text></g>
<g id="n_kecheng" class="n"><circle class="cy" cx="728" cy="987" r="12"/><text x="727" y="988" font-size="21" textLength="59" lengthAdjust="spacingAndGlyphs">课程</text></g>
<g id="n_celue" class="n"><circle class="cy" cx="311" cy="1016" r="12"/><text x="311" y="1016" font-size="20" textLength="57" lengthAdjust="spacingAndGlyphs">策略</text></g>
<g id="n_gean" class="n"><circle class="cy" cx="408" cy="1027" r="12"/><text x="407" y="1027" font-size="20" textLength="57" lengthAdjust="spacingAndGlyphs">个案</text></g>
<g id="n_jiqi" class="n"><circle class="cy" cx="531" cy="1017" r="12"/><text x="530" y="1018" font-size="20" textLength="57" lengthAdjust="spacingAndGlyphs">及其</text></g>
</g>
</svg>
